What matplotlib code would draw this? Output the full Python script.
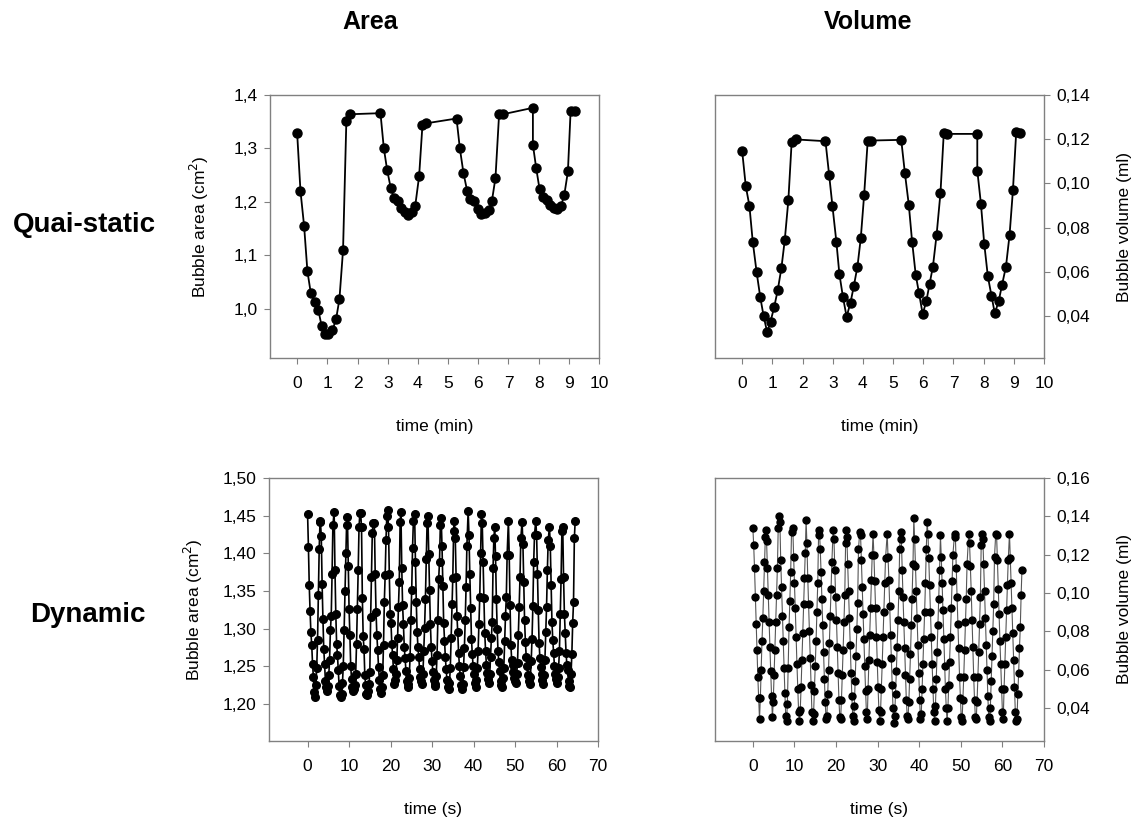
import matplotlib.pyplot as plt
from matplotlib.ticker import FuncFormatter

plt.rcParams['font.family'] = ['Liberation Sans', 'DejaVu Sans']

# quasi-static, area (time in min)
qs_area_t = [0.0, 0.11, 0.23, 0.34, 0.45, 0.58, 0.70, 0.81, 0.93, 1.03, 1.17, 1.29, 1.40, 1.52,
             1.63, 1.76, 2.76, 2.87, 2.98, 3.10, 3.21, 3.33, 3.44, 3.56, 3.68, 3.79, 3.91, 4.04,
             4.15, 4.27, 5.28, 5.39, 5.51, 5.63, 5.74, 5.87, 5.98, 6.09, 6.22, 6.34, 6.45, 6.57,
             6.69, 6.82, 7.81, 7.81, 7.92, 8.03, 8.15, 8.27, 8.38, 8.50, 8.62, 8.74, 8.85, 8.97,
             9.06, 9.20]
qs_area = [1.328, 1.220, 1.155, 1.070, 1.030, 1.012, 0.998, 0.968, 0.952, 0.952, 0.960, 0.981,
           1.018, 1.110, 1.352, 1.364, 1.366, 1.301, 1.260, 1.226, 1.207, 1.201, 1.188, 1.181,
           1.176, 1.181, 1.192, 1.248, 1.343, 1.347, 1.356, 1.300, 1.254, 1.221, 1.205, 1.201,
           1.187, 1.178, 1.179, 1.184, 1.201, 1.245, 1.364, 1.364, 1.376, 1.307, 1.263, 1.224,
           1.209, 1.204, 1.195, 1.189, 1.187, 1.192, 1.213, 1.257, 1.371, 1.371]

# quasi-static, volume
qs_vol_t = [0.0, 0.12, 0.24, 0.35, 0.48, 0.60, 0.71, 0.83, 0.94, 1.06, 1.18, 1.30, 1.41, 1.53,
            1.64, 1.77, 2.76, 2.88, 2.99, 3.12, 3.22, 3.34, 3.46, 3.59, 3.70, 3.82, 3.93, 4.04,
            4.16, 4.28, 5.27, 5.39, 5.52, 5.63, 5.75, 5.86, 5.98, 6.10, 6.21, 6.32, 6.44, 6.57,
            6.68, 6.80, 7.79, 7.79, 7.91, 8.02, 8.14, 8.26, 8.37, 8.50, 8.61, 8.74, 8.86, 8.97,
            9.08, 9.22]
qs_vol = [0.1146, 0.0987, 0.0899, 0.0737, 0.0597, 0.0485, 0.0400, 0.0326, 0.0375, 0.0440,
          0.0518, 0.0617, 0.0742, 0.0923, 0.1188, 0.1199, 0.1191, 0.1040, 0.0899, 0.0737,
          0.0591, 0.0485, 0.0397, 0.0461, 0.0536, 0.0624, 0.0753, 0.0946, 0.1194, 0.1194,
          0.1197, 0.1048, 0.0904, 0.0737, 0.0586, 0.0503, 0.0409, 0.0466, 0.0546, 0.0624,
          0.0765, 0.0957, 0.1229, 0.1224, 0.1224, 0.1058, 0.0908, 0.0727, 0.0579, 0.0492,
          0.0412, 0.0468, 0.0541, 0.0624, 0.0768, 0.0968, 0.1234, 0.1229]

# dynamic runs: one row per breathing cycle, sampled at the same offsets (s)
sample_offset = [0.0, 0.2, 0.4, 0.6, 0.8, 1.0, 1.2, 1.4, 1.6, 1.8, 2.0, 2.2, 2.4, 2.6, 2.8, 3.0]

area_cycle_start = [0.0, 3.1, 6.4, 9.6, 12.8, 16.1, 19.3, 22.5, 25.8, 29.0,
                    32.2, 35.4, 38.7, 41.9, 45.1, 48.4, 51.7, 55.0, 58.3, 61.5]
area_cycles = [
    [1.452, 1.409, 1.358, 1.323, 1.295, 1.278, 1.253, 1.236, 1.216, 1.210, 1.225, 1.248, 1.285, 1.345, 1.406, 1.443],
    [1.442, 1.423, 1.360, 1.313, 1.273, 1.253, 1.230, 1.222, 1.218, 1.224, 1.238, 1.258, 1.298, 1.317, 1.372, 1.437],
    [1.455, 1.378, 1.320, 1.280, 1.265, 1.245, 1.224, 1.212, 1.210, 1.214, 1.228, 1.250, 1.298, 1.350, 1.400, 1.438],
    [1.448, 1.383, 1.326, 1.291, 1.250, 1.233, 1.222, 1.218, 1.220, 1.225, 1.240, 1.280, 1.326, 1.378, 1.435, 1.453],
    [1.453, 1.435, 1.341, 1.290, 1.273, 1.238, 1.225, 1.214, 1.212, 1.218, 1.226, 1.243, 1.315, 1.369, 1.427, 1.440],
    [1.440, 1.372, 1.322, 1.291, 1.272, 1.249, 1.232, 1.220, 1.215, 1.222, 1.239, 1.279, 1.336, 1.371, 1.418, 1.450],
    [1.457, 1.435, 1.372, 1.320, 1.308, 1.280, 1.265, 1.246, 1.226, 1.232, 1.240, 1.258, 1.288, 1.329, 1.362, 1.441],
    [1.455, 1.381, 1.331, 1.306, 1.276, 1.261, 1.244, 1.230, 1.226, 1.222, 1.235, 1.262, 1.311, 1.352, 1.407, 1.443],
    [1.452, 1.388, 1.335, 1.296, 1.276, 1.262, 1.246, 1.236, 1.230, 1.227, 1.240, 1.270, 1.301, 1.340, 1.392, 1.440],
    [1.450, 1.399, 1.351, 1.306, 1.276, 1.257, 1.243, 1.232, 1.226, 1.224, 1.237, 1.265, 1.311, 1.366, 1.389, 1.437],
    [1.447, 1.410, 1.357, 1.308, 1.284, 1.263, 1.246, 1.232, 1.222, 1.220, 1.228, 1.248, 1.288, 1.333, 1.367, 1.430],
    [1.443, 1.420, 1.368, 1.317, 1.295, 1.268, 1.250, 1.237, 1.225, 1.220, 1.226, 1.249, 1.275, 1.312, 1.355, 1.410],
    [1.456, 1.425, 1.373, 1.328, 1.287, 1.266, 1.250, 1.240, 1.228, 1.222, 1.232, 1.248, 1.270, 1.306, 1.342, 1.400],
    [1.452, 1.440, 1.389, 1.341, 1.294, 1.271, 1.252, 1.241, 1.233, 1.228, 1.240, 1.262, 1.288, 1.309, 1.380, 1.420],
    [1.435, 1.396, 1.340, 1.300, 1.270, 1.256, 1.244, 1.230, 1.225, 1.222, 1.235, 1.248, 1.284, 1.317, 1.342, 1.398],
    [1.443, 1.398, 1.331, 1.279, 1.258, 1.252, 1.243, 1.235, 1.230, 1.228, 1.240, 1.254, 1.291, 1.329, 1.368, 1.420],
    [1.442, 1.413, 1.362, 1.312, 1.282, 1.263, 1.250, 1.238, 1.230, 1.226, 1.236, 1.257, 1.287, 1.330, 1.388, 1.425],
    [1.443, 1.425, 1.372, 1.325, 1.281, 1.261, 1.249, 1.240, 1.232, 1.226, 1.238, 1.258, 1.296, 1.329, 1.378, 1.418],
    [1.435, 1.410, 1.358, 1.309, 1.285, 1.268, 1.251, 1.240, 1.233, 1.228, 1.236, 1.248, 1.270, 1.320, 1.366, 1.430],
    [1.435, 1.368, 1.320, 1.294, 1.268, 1.252, 1.245, 1.230, 1.224, 1.222, 1.240, 1.267, 1.308, 1.335, 1.420, 1.443],
]

vol_cycle_start = [0.0, 3.1, 6.3, 9.6, 12.8, 16.0, 19.3, 22.4, 25.7, 28.9,
                   32.3, 35.5, 38.7, 41.9, 45.1, 48.5, 51.9, 55.1, 58.4, 61.7]
vol_cycles = [
    [0.134, 0.125, 0.113, 0.098, 0.084, 0.070, 0.056, 0.045, 0.034, 0.045, 0.060, 0.075, 0.087, 0.101, 0.116, 0.129],
    [0.133, 0.127, 0.113, 0.099, 0.085, 0.072, 0.059, 0.046, 0.035, 0.043, 0.057, 0.070, 0.085, 0.099, 0.113, 0.134],
    [0.140, 0.137, 0.117, 0.103, 0.088, 0.075, 0.061, 0.048, 0.036, 0.033, 0.042, 0.061, 0.082, 0.096, 0.111, 0.132],
    [0.134, 0.119, 0.105, 0.092, 0.077, 0.063, 0.050, 0.038, 0.033, 0.039, 0.051, 0.065, 0.079, 0.094, 0.108, 0.121],
    [0.138, 0.126, 0.108, 0.094, 0.080, 0.066, 0.052, 0.038, 0.033, 0.037, 0.049, 0.062, 0.075, 0.090, 0.105, 0.130],
    [0.133, 0.123, 0.111, 0.097, 0.083, 0.069, 0.055, 0.043, 0.034, 0.036, 0.047, 0.060, 0.074, 0.088, 0.102, 0.116],
    [0.133, 0.128, 0.112, 0.098, 0.086, 0.072, 0.058, 0.044, 0.035, 0.034, 0.044, 0.057, 0.070, 0.085, 0.099, 0.126],
    [0.133, 0.129, 0.115, 0.101, 0.087, 0.073, 0.058, 0.046, 0.036, 0.033, 0.041, 0.054, 0.067, 0.081, 0.095, 0.123],
    [0.132, 0.130, 0.117, 0.103, 0.089, 0.076, 0.062, 0.049, 0.038, 0.034, 0.050, 0.065, 0.078, 0.092, 0.107, 0.120],
    [0.131, 0.120, 0.106, 0.092, 0.077, 0.064, 0.051, 0.039, 0.033, 0.038, 0.050, 0.063, 0.077, 0.090, 0.105, 0.118],
    [0.131, 0.119, 0.107, 0.093, 0.078, 0.066, 0.052, 0.040, 0.032, 0.036, 0.047, 0.059, 0.072, 0.086, 0.101, 0.123],
    [0.132, 0.128, 0.112, 0.098, 0.085, 0.071, 0.057, 0.044, 0.036, 0.034, 0.043, 0.055, 0.068, 0.083, 0.097, 0.115],
    [0.139, 0.128, 0.114, 0.101, 0.087, 0.073, 0.058, 0.044, 0.034, 0.037, 0.050, 0.063, 0.076, 0.090, 0.105, 0.123],
    [0.137, 0.131, 0.118, 0.104, 0.090, 0.077, 0.063, 0.050, 0.038, 0.033, 0.041, 0.055, 0.069, 0.083, 0.097, 0.112],
    [0.130, 0.119, 0.105, 0.091, 0.076, 0.062, 0.050, 0.040, 0.033, 0.040, 0.052, 0.064, 0.077, 0.092, 0.106, 0.120],
    [0.131, 0.129, 0.113, 0.098, 0.084, 0.071, 0.056, 0.045, 0.035, 0.033, 0.044, 0.056, 0.070, 0.085, 0.097, 0.115],
    [0.131, 0.126, 0.114, 0.101, 0.086, 0.072, 0.056, 0.044, 0.035, 0.034, 0.043, 0.056, 0.069, 0.084, 0.098, 0.125],
    [0.131, 0.128, 0.115, 0.101, 0.087, 0.073, 0.060, 0.046, 0.035, 0.033, 0.040, 0.054, 0.067, 0.080, 0.094, 0.119],
    [0.131, 0.130, 0.117, 0.102, 0.089, 0.075, 0.063, 0.050, 0.038, 0.034, 0.050, 0.063, 0.077, 0.091, 0.104, 0.117],
    [0.131, 0.118, 0.105, 0.092, 0.079, 0.065, 0.051, 0.038, 0.033, 0.034, 0.047, 0.058, 0.071, 0.082, 0.099, 0.112],
]

dyn_area_t = [s + o for s in area_cycle_start for o in sample_offset]
dyn_area = [v for row in area_cycles for v in row]
dyn_vol_t = [s + o for s in vol_cycle_start for o in sample_offset]
dyn_vol = [v for row in vol_cycles for v in row]

GRAY = '#808080'


def comma(dec):
    return FuncFormatter(lambda v, p: f'{v:.{dec}f}'.replace('.', ','))


def style(ax, right=False):
    for s in ax.spines.values():
        s.set_color(GRAY)
        s.set_linewidth(1.0)
    ax.tick_params(direction='out', length=4, color=GRAY, labelsize=12.5)
    ax.tick_params(axis='x', pad=9)
    ax.tick_params(axis='y', pad=5)
    if right:
        ax.yaxis.tick_right()
        ax.yaxis.set_label_position('right')


fig = plt.figure(figsize=(11.38, 8.17), dpi=100)

W, H = 1138, 817
def box(l, t, r, b):
    return [l / W, 1 - b / H, (r - l) / W, (b - t) / H]

ax1 = fig.add_axes(box(270, 95, 599, 358))
ax2 = fig.add_axes(box(715, 95, 1044, 358))
ax3 = fig.add_axes(box(269, 478, 598, 741))
ax4 = fig.add_axes(box(715, 478, 1044, 741))

# quasi-static area
ax1.plot(qs_area_t, qs_area, '-o', color='black', lw=1.3, ms=6.5)
ax1.set_xlim(-0.9, 10)
ax1.set_ylim(0.908, 1.4)
ax1.set_yticks([1.0, 1.1, 1.2, 1.3, 1.4])
ax1.yaxis.set_major_formatter(comma(1))
ax1.set_ylabel('Bubble area (cm$^2$)', fontsize=12.5)
ax1.yaxis.set_label_coords(-0.18, 0.5)

# quasi-static volume
ax2.plot(qs_vol_t, qs_vol, '-o', color='black', lw=1.3, ms=6.5)
ax2.set_xlim(-0.9, 10)
ax2.set_ylim(0.021, 0.14)
ax2.set_yticks([0.04, 0.06, 0.08, 0.10, 0.12, 0.14])
ax2.yaxis.set_major_formatter(comma(2))
ax2.set_ylabel('Bubble volume (ml)', fontsize=12.5)

for ax in (ax1, ax2):
    ax.set_xticks(range(0, 11))
    ax.set_xlabel('time (min)', fontsize=12.5, labelpad=20)

# dynamic area
ax3.plot(dyn_area_t, dyn_area, '-o', color='black', lw=1.2, ms=5.5)
ax3.set_xlim(-9.3, 70)
ax3.set_ylim(1.151, 1.5)
ax3.set_yticks([1.20, 1.25, 1.30, 1.35, 1.40, 1.45, 1.50])
ax3.yaxis.set_major_formatter(comma(2))
ax3.set_ylabel('Bubble area (cm$^2$)', fontsize=12.5)
ax3.yaxis.set_label_coords(-0.195, 0.5)

# dynamic volume
ax4.plot(dyn_vol_t, dyn_vol, '-', color='#555555', lw=0.8)
ax4.plot(dyn_vol_t, dyn_vol, 'o', color='black', ms=5)
ax4.set_xlim(-9.1, 70)
ax4.set_ylim(0.0227, 0.16)
ax4.set_yticks([0.04, 0.06, 0.08, 0.10, 0.12, 0.14, 0.16])
ax4.yaxis.set_major_formatter(comma(2))
ax4.set_ylabel('Bubble volume (ml)', fontsize=12.5)

for ax in (ax3, ax4):
    ax.set_xticks(range(0, 71, 10))
    ax.set_xlabel('time (s)', fontsize=12.5, labelpad=20)

style(ax1)
style(ax2, right=True)
style(ax3)
style(ax4, right=True)
ax2.yaxis.set_label_coords(1.222, 0.5)
ax4.yaxis.set_label_coords(1.222, 0.5)

fig.text(370 / W, 1 - 22 / H, 'Area', fontsize=18, fontweight='bold', ha='center', va='center')
fig.text(868 / W, 1 - 22 / H, 'Volume', fontsize=18, fontweight='bold', ha='center', va='center')
fig.text(84 / W, 1 - 225 / H, 'Quai-static', fontsize=20, fontweight='bold', ha='center', va='center')
fig.text(88 / W, 1 - 615 / H, 'Dynamic', fontsize=20, fontweight='bold', ha='center', va='center')

fig.savefig('out.png', dpi=100)
